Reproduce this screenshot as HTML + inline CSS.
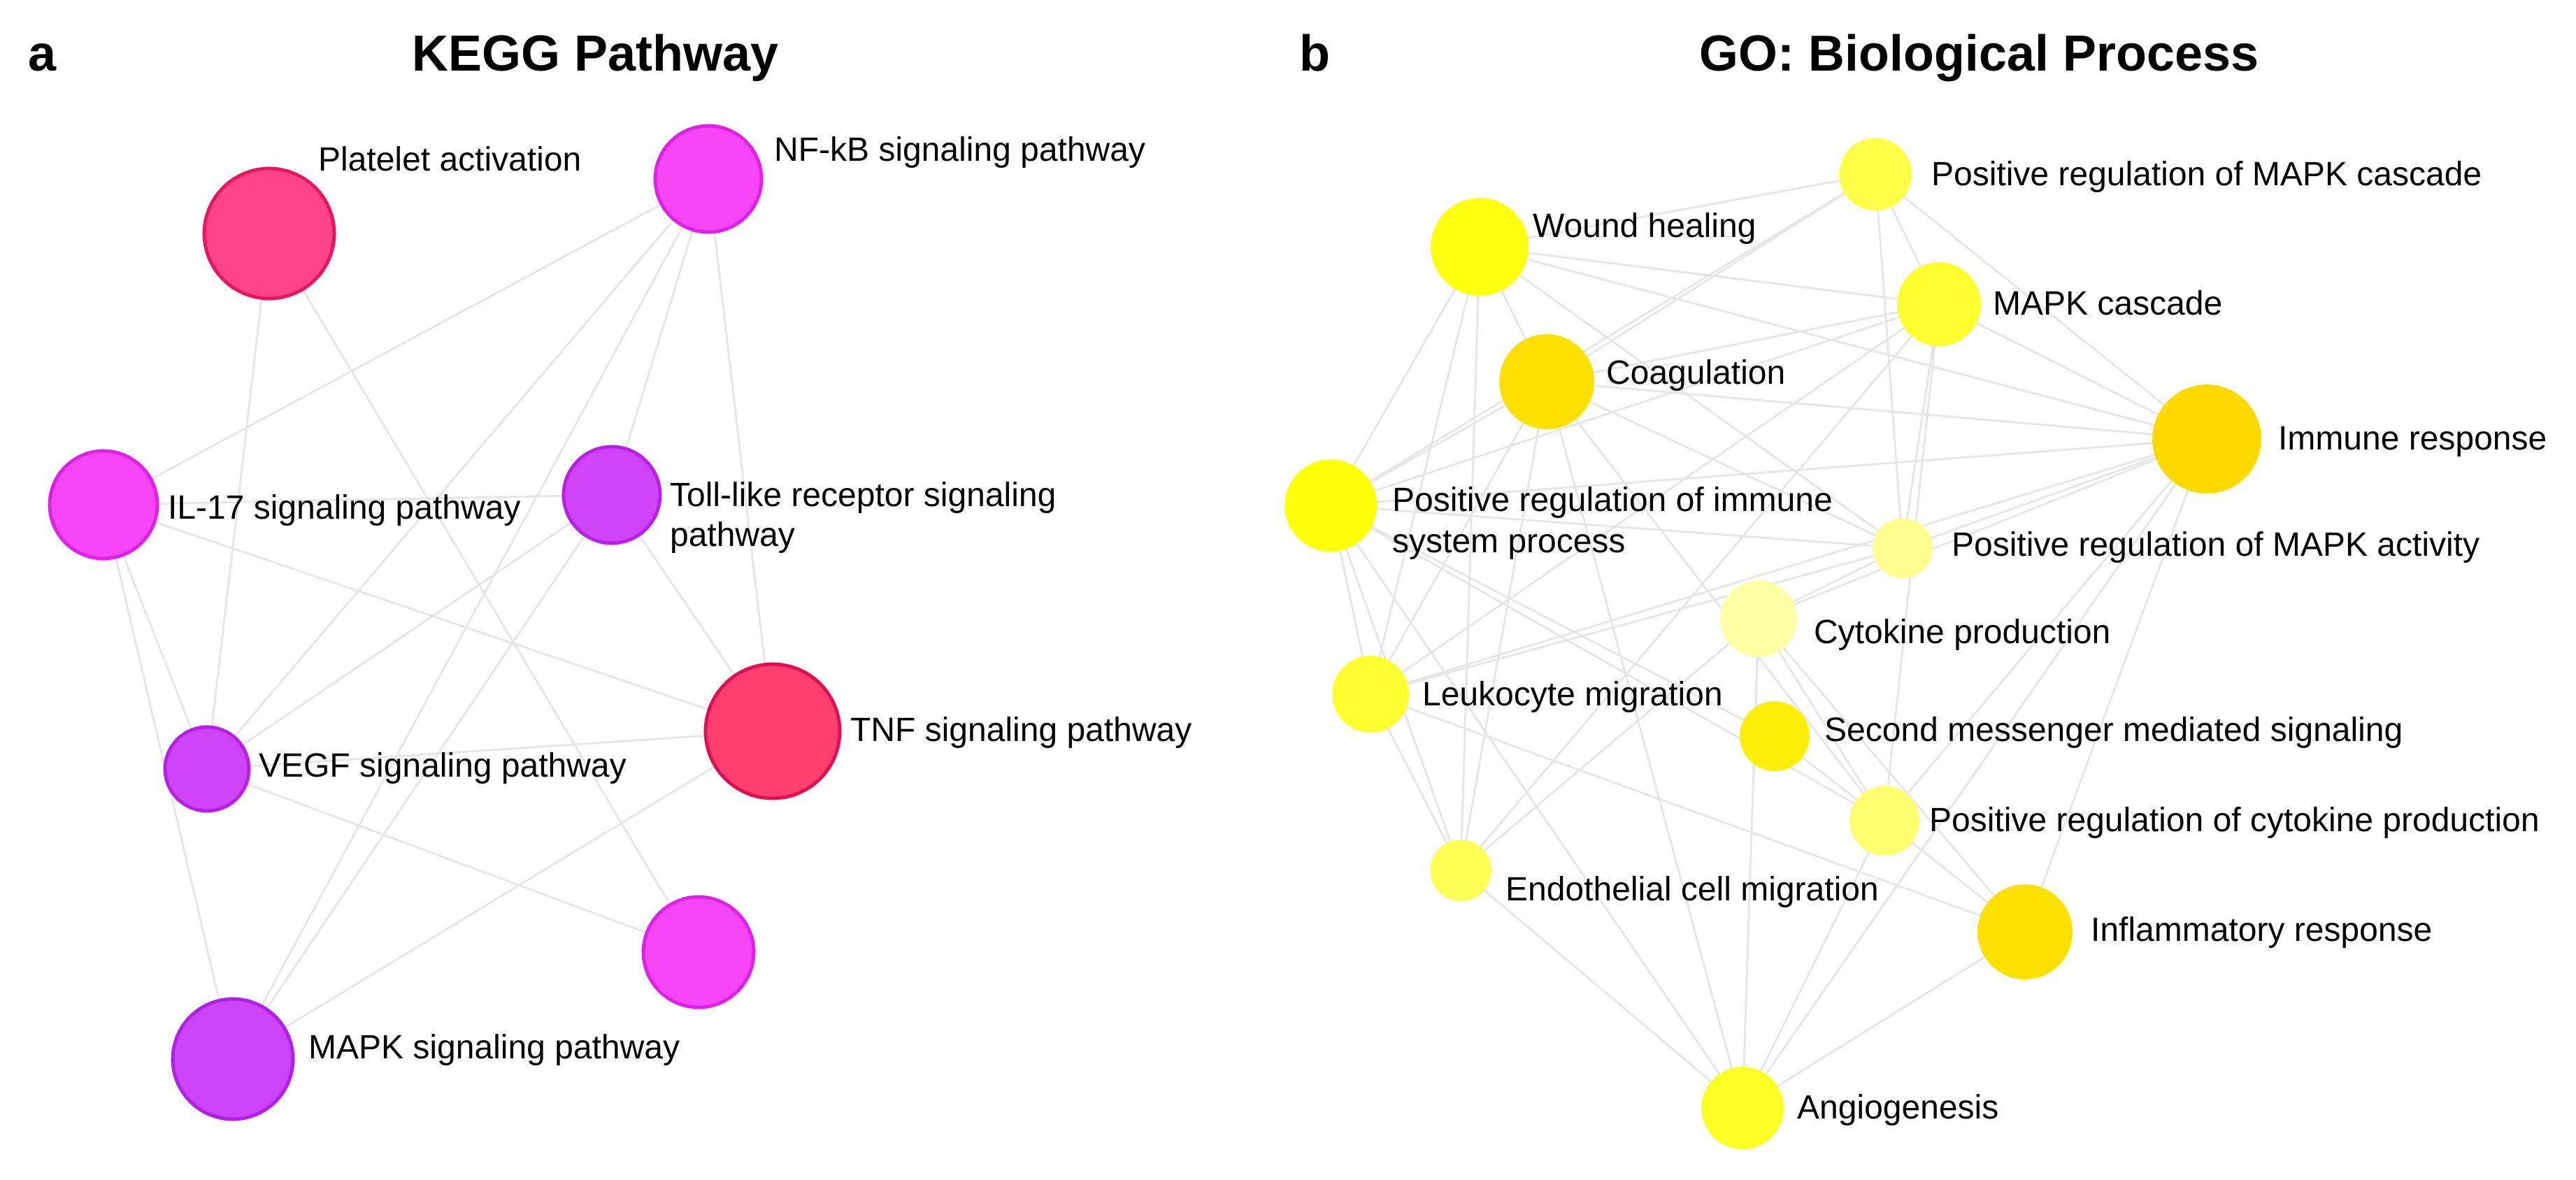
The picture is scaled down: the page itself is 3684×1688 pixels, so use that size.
<!DOCTYPE html>
<html><head><meta charset="utf-8"><style>
html,body{margin:0;padding:0;background:#fff;}
svg{display:block;}
text{font-family:"Liberation Sans",Arial,sans-serif;fill:#000;}
.l{font-size:48px;}
.t{font-size:72px;font-weight:bold;}
line{stroke:#e6e6e6;stroke-width:3;}
</style></head><body>
<svg width="3684" height="1688" viewBox="0 0 3684 1688" xmlns="http://www.w3.org/2000/svg">
<rect width="3684" height="1688" fill="#fff"/>
<!-- Panel a -->
<text class="t" x="40" y="101">a</text>
<text class="t" x="851" y="101" text-anchor="middle">KEGG Pathway</text>
<g>
<line x1="385" y1="334" x2="296" y2="1100"/>
<line x1="385" y1="334" x2="999" y2="1362"/>
<line x1="1013" y1="256" x2="148" y2="722"/>
<line x1="1013" y1="256" x2="296" y2="1100"/>
<line x1="1013" y1="256" x2="333" y2="1515"/>
<line x1="1013" y1="256" x2="875" y2="708"/>
<line x1="1013" y1="256" x2="1105" y2="1046"/>
<line x1="148" y1="722" x2="1105" y2="1046"/>
<line x1="148" y1="722" x2="296" y2="1100"/>
<line x1="148" y1="722" x2="333" y2="1515"/>
<line x1="148" y1="722" x2="875" y2="708"/>
<line x1="875" y1="708" x2="296" y2="1100"/>
<line x1="875" y1="708" x2="333" y2="1515"/>
<line x1="875" y1="708" x2="1105" y2="1046"/>
<line x1="296" y1="1100" x2="1105" y2="1046"/>
<line x1="296" y1="1100" x2="999" y2="1362"/>
<line x1="1105" y1="1046" x2="333" y2="1515"/>
</g>
<circle cx="385" cy="334" r="93" fill="#ff4585" stroke="#e8155f" stroke-width="5"/>
<circle cx="1013" cy="256" r="76" fill="#f545f5" stroke="#e020e8" stroke-width="5"/>
<circle cx="148" cy="722" r="77" fill="#f545f5" stroke="#e020e8" stroke-width="5"/>
<circle cx="875" cy="708" r="69" fill="#d044f8" stroke="#b820e8" stroke-width="5"/>
<circle cx="1105" cy="1046" r="96" fill="#ff3f70" stroke="#e01050" stroke-width="5"/>
<circle cx="296" cy="1100" r="60" fill="#d044f8" stroke="#b820e8" stroke-width="5"/>
<circle cx="999" cy="1362" r="79" fill="#f545f5" stroke="#e020e8" stroke-width="5"/>
<circle cx="333" cy="1515" r="86" fill="#cc44fa" stroke="#b020e8" stroke-width="5"/>
<text class="l" x="455" y="244">Platelet activation</text>
<text class="l" x="1107" y="230">NF-kB signaling pathway</text>
<text class="l" x="240" y="742">IL-17 signaling pathway</text>
<text class="l" x="958" y="724">Toll-like receptor signaling</text>
<text class="l" x="958" y="781">pathway</text>
<text class="l" x="1216" y="1060">TNF signaling pathway</text>
<text class="l" x="370" y="1111">VEGF signaling pathway</text>
<text class="l" x="441" y="1514">MAPK signaling pathway</text>

<!-- Panel b -->
<text class="t" x="1858" y="101">b</text>
<text class="t" x="2830" y="101" text-anchor="middle">GO: Biological Process</text>
<g>
<!-- Wound -->
<line x1="2116" y1="353" x2="2682" y2="249"/>
<line x1="2116" y1="353" x2="2773" y2="435"/>
<line x1="2116" y1="353" x2="3156" y2="628"/>
<line x1="2116" y1="353" x2="1903" y2="723"/>
<line x1="2116" y1="353" x2="1960" y2="993"/>
<line x1="2116" y1="353" x2="2089" y2="1245"/>
<line x1="2116" y1="353" x2="2212" y2="546"/>
<line x1="2116" y1="353" x2="2721" y2="784"/>
<!-- PRMC -->
<line x1="2682" y1="249" x2="2212" y2="546"/>
<line x1="2682" y1="249" x2="2773" y2="435"/>
<line x1="2682" y1="249" x2="3156" y2="628"/>
<line x1="2682" y1="249" x2="2721" y2="784"/>
<line x1="2682" y1="249" x2="1903" y2="723"/>
<!-- MAPK cascade -->
<line x1="2773" y1="435" x2="2212" y2="546"/>
<line x1="2773" y1="435" x2="1903" y2="723"/>
<line x1="2773" y1="435" x2="3156" y2="628"/>
<line x1="2773" y1="435" x2="2721" y2="784"/>
<line x1="2773" y1="435" x2="1960" y2="993"/>
<line x1="2773" y1="435" x2="2089" y2="1245"/>
<line x1="2773" y1="435" x2="2695" y2="1174"/>
<!-- Coag -->
<line x1="2212" y1="546" x2="3156" y2="628"/>
<line x1="2212" y1="546" x2="1903" y2="723"/>
<line x1="2212" y1="546" x2="1960" y2="993"/>
<line x1="2212" y1="546" x2="2089" y2="1245"/>
<line x1="2212" y1="546" x2="2492" y2="1585"/>
<line x1="2212" y1="546" x2="2721" y2="784"/>
<line x1="2212" y1="546" x2="2695" y2="1174"/>
<!-- Immune -->
<line x1="3156" y1="628" x2="1903" y2="723"/>
<line x1="3156" y1="628" x2="2721" y2="784"/>
<line x1="3156" y1="628" x2="2515" y2="885"/>
<line x1="3156" y1="628" x2="1960" y2="993"/>
<line x1="3156" y1="628" x2="2695" y2="1174"/>
<line x1="3156" y1="628" x2="2896" y2="1333"/>
<line x1="3156" y1="628" x2="2492" y2="1585"/>
<!-- PRIS -->
<line x1="1903" y1="723" x2="1960" y2="993"/>
<line x1="1903" y1="723" x2="2089" y2="1245"/>
<line x1="1903" y1="723" x2="2721" y2="784"/>
<line x1="1903" y1="723" x2="2695" y2="1174"/>
<line x1="1903" y1="723" x2="2492" y2="1585"/>
<line x1="1903" y1="723" x2="2538" y2="1053"/>
<!-- others -->
<line x1="2721" y1="784" x2="1960" y2="993"/>
<line x1="2721" y1="784" x2="2515" y2="885"/>
<line x1="2515" y1="885" x2="2695" y2="1174"/>
<line x1="2515" y1="885" x2="2896" y2="1333"/>
<line x1="2515" y1="885" x2="2089" y2="1245"/>
<line x1="2515" y1="885" x2="2492" y2="1585"/>
<line x1="1960" y1="993" x2="2089" y2="1245"/>
<line x1="1960" y1="993" x2="2896" y2="1333"/>
<line x1="2538" y1="1053" x2="2695" y2="1174"/>
<line x1="2695" y1="1174" x2="2896" y2="1333"/>
<line x1="2695" y1="1174" x2="2492" y2="1585"/>
<line x1="2896" y1="1333" x2="2492" y2="1585"/>
<line x1="2089" y1="1245" x2="2492" y2="1585"/>
</g>
<circle cx="2682" cy="249" r="52" fill="#ffff4a"/>
<circle cx="2116" cy="353" r="70" fill="#ffff10"/>
<circle cx="2773" cy="435" r="60" fill="#ffff30"/>
<circle cx="2212" cy="546" r="68" fill="#fde000"/>
<circle cx="3156" cy="628" r="78" fill="#fdd900"/>
<circle cx="1903" cy="723" r="66" fill="#ffff08"/>
<circle cx="2721" cy="784" r="43" fill="#ffff90"/>
<circle cx="2515" cy="885" r="55" fill="#ffffa6"/>
<circle cx="1960" cy="993" r="55" fill="#ffff30"/>
<circle cx="2538" cy="1053" r="50" fill="#ffee08"/>
<circle cx="2695" cy="1174" r="50" fill="#ffff70"/>
<circle cx="2089" cy="1245" r="44" fill="#ffff55"/>
<circle cx="2896" cy="1333" r="68" fill="#fde000"/>
<circle cx="2492" cy="1585" r="59" fill="#ffff25"/>
<text class="l" x="2762" y="265">Positive regulation of MAPK cascade</text>
<text class="l" x="2192" y="339">Wound healing</text>
<text class="l" x="2850" y="450">MAPK cascade</text>
<text class="l" x="2297" y="549">Coagulation</text>
<text class="l" x="3258" y="643">Immune response</text>
<text class="l" x="1991" y="731">Positive regulation of immune</text>
<text class="l" x="1991" y="790">system process</text>
<text class="l" x="2791" y="795">Positive regulation of MAPK activity</text>
<text class="l" x="2594" y="920">Cytokine production</text>
<text class="l" x="2034" y="1009">Leukocyte migration</text>
<text class="l" x="2609" y="1060">Second messenger mediated signaling</text>
<text class="l" x="2759" y="1189">Positive regulation of cytokine production</text>
<text class="l" x="2153" y="1288">Endothelial cell migration</text>
<text class="l" x="2990" y="1346">Inflammatory response</text>
<text class="l" x="2570" y="1600">Angiogenesis</text>
</svg>
</body></html>
